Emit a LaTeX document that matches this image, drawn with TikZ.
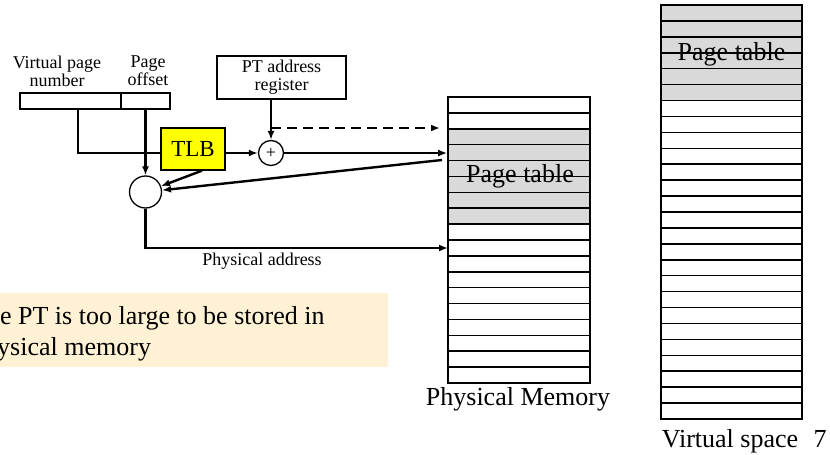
\documentclass[tikz,border=0pt]{standalone}
\usepackage{fontspec}
\setmainfont{Liberation Serif}
\usetikzlibrary{arrows.meta}
\definecolor{ptgray}{HTML}{D9D9D9}
\definecolor{tlbyellow}{HTML}{FFFF00}
\definecolor{notefill}{HTML}{FFF2D4}
\tikzset{
  box/.style={draw, line width=1.3pt, inner sep=0pt},
  conn/.style={line width=2.4pt},
  arr/.style={conn, -{Latex[length=9pt,width=7pt]}},
  rowline/.style={line width=1.5pt},
  small/.style={font=\fontsize{18}{18}\selectfont, inner sep=0pt, align=center},
  big/.style={font=\fontsize{26}{31}\selectfont, inner sep=0pt},
}
\begin{document}
\begin{tikzpicture}[x=1pt, y=-1pt]
\useasboundingbox (0,0) rectangle (830,455);
\clip (0,0) rectangle (830,455);

% note box (partly cut off on the left)
\fill[notefill] (-40,293) rectangle (388,367);
\node[big, anchor=north west, align=left] (note) at (-29,306.2)
  {The PT is too large to be stored in\\physical memory};

% virtual address register
\node[box, minimum width=101pt, minimum height=16pt] (vpn) at (70.5,101) {};
\node[box, minimum width=49pt, minimum height=16pt] (off) at (145.5,101) {};
\node[small] (vpnlab) at (57,71) {Virtual page\\number};
\node[small] (offlab) at (148,71) {Page\\offset};

% PT address register
\node[box, minimum width=129pt, minimum height=43pt, small] (ptr) at (281.5,77.5) {PT address\\register};

% TLB, adder and selector
\node[box, fill=tlbyellow, minimum width=64pt, minimum height=42pt,
      font=\fontsize{23}{23}\selectfont] (tlb) at (193,149) {TLB};
\node[circle, draw, line width=1.3pt, minimum size=25pt, inner sep=0pt,
      font=\fontsize{18}{18}\selectfont] (plus) at (271,153) {+};
\node[circle, draw, line width=1.3pt, minimum size=32pt, inner sep=0pt] (sum) at (145.5,192) {};

% physical memory
\fill[ptgray] (448,128.8) rectangle (590,224.1);
\node[big, anchor=base] (pmpt) at (520,182) {Page table};
\node[box, line width=1.6pt, minimum width=142pt, minimum height=286pt] (pm) at (519,240) {};
\foreach \i in {1,...,17}
  \draw[rowline] (448,97+\i*15.889) -- (590,97+\i*15.889);
\node[big, anchor=base] (pmlab) at (518,405) {Physical Memory};

% virtual space
\fill[ptgray] (661,5) rectangle (802,100.5);
\node[big, anchor=base] (vspt) at (731.5,60) {Page table};
\node[box, line width=1.6pt, minimum width=141pt, minimum height=414pt] (vs) at (731.5,212) {};
\foreach \i in {1,...,25}
  \draw[rowline] (661,5+\i*15.923) -- (802,5+\i*15.923);
\node[big, anchor=base] (vslab) at (730,447) {Virtual space};
\node[big, anchor=base] (pagenum) at (820,447) {7};

% connector end points
\coordinate (dash0) at (271,128);
\coordinate (dash1) at (440,128);
\coordinate (back0) at (442,160);
\coordinate (pa) at (448,248);

% connectors
\draw[conn] ([xshift=7.5pt]vpn.south) |- (tlb.west |- plus.center);
\draw[arr] (off.south) -- (off.south |- sum.north);
\draw[arr] (tlb.east |- plus.center) -- (plus.west);
\draw[arr] (ptr.south -| plus.north) -- (plus.north);
\draw[arr, dash pattern=on 10pt off 6pt] (dash0) -- (dash1);
\draw[arr] (plus.east) -- (pm.west |- plus.center);
\draw[arr] (back0) -- (sum);
\draw[arr] ([xshift=9pt]tlb.south) -- (sum);
\draw[arr] (sum.south) |- (pa);
\node[small, anchor=base] (palab) at (262,265) {Physical address};
\end{tikzpicture}
\end{document}
